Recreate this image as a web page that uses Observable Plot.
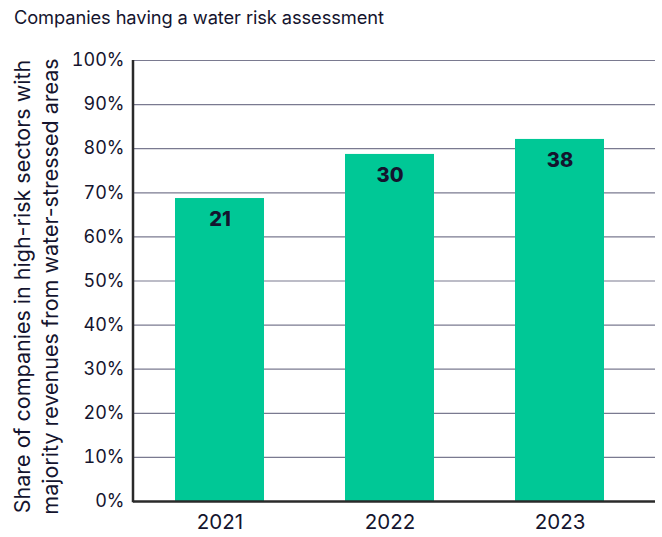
<!DOCTYPE html>
<html><head><meta charset="utf-8">
<script src="https://cdn.jsdelivr.net/npm/d3@7"></script>
<script src="https://cdn.jsdelivr.net/npm/@observablehq/plot@0.6"></script>
<style>
body{margin:0;background:#fff;font-family:Inter,"Liberation Sans",sans-serif;color:#14142e;}
#title{position:absolute;left:14px;top:6px;font-size:18.3px;letter-spacing:-0.1px;}
#chart{position:absolute;left:0;top:40px;}
</style></head>
<body>
<div id="title">Companies having a water risk assessment</div>
<div id="chart"></div>
<script>
const years = ["2021", "2022", "2023"];
const shares = [68.7, 78.7, 82.1];
const counts = [21, 30, 38];
const yTicks = [0,10,20,30,40,50,60,70,80,90,100];
const yLabelLines = ["Share of companies in high-risk sectors with", "majority revenues from water-stressed areas"];

const data = years.map((y,i)=>({year:y, share:shares[i], count:counts[i]}));
const dark = "#14142e";
const W = 662, H = 497, mL = 133, mR = 7, mT = 20, mB = 36;

const chart = Plot.plot({
  width: W, height: H,
  marginLeft: mL, marginRight: mR, marginTop: mT, marginBottom: mB,
  style: {fontFamily: "Inter, 'Liberation Sans', sans-serif", color: dark, background: "#fff"},
  x: {domain: years, paddingInner: 0.474, paddingOuter: 0.27, align: 0.45, label: null},
  y: {domain: [0,100], label: null},
  marks: [
    Plot.gridY(yTicks, {stroke: "#7a7a90", strokeOpacity: 1, strokeWidth: 1.2}),
    Plot.barY(data, {x: "year", y: "share", fill: "#00c896"}),
    Plot.ruleY([0], {stroke: "#2a2a2a", strokeWidth: 2.5}),
    Plot.text(data, {x: "year", y: "share", text: d => String(d.count), dy: 21, fontSize: 20, fontWeight: 800, fill: dark}),
    Plot.axisY(yTicks, {tickFormat: d => d + "%", tickSize: 0, tickPadding: 9, fontSize: 18, fill: dark, label: null}),
    Plot.axisX({tickSize: 0, tickPadding: 13, fontSize: 20.5, fill: dark, label: null})
  ]
});
document.getElementById("chart").appendChild(chart);

// left axis line, via the y scale
const ys = chart.scale("y");
const svg = d3.select(chart.tagName.toLowerCase()==="svg" ? chart : chart.querySelector("svg"));
const y0 = ys.apply(0), y100 = ys.apply(100);
svg.append("line").attr("x1", mL).attr("x2", mL).attr("y1", y100).attr("y2", y0 + 1.2)
  .attr("stroke", "#2a2a2a").attr("stroke-width", 2.5);

// two-line rotated y label
const t = svg.append("text")
  .attr("transform", `translate(0,${(y0+y100)/2 + 6}) rotate(-90)`)
  .attr("text-anchor", "middle")
  .attr("fill", dark)
  .style("font-size", "21.5px");
yLabelLines.forEach((l,i)=>{
  t.append("tspan").attr("x", 0).attr("y", 30 + i*28).text(l);
});
</script>
</body></html>
